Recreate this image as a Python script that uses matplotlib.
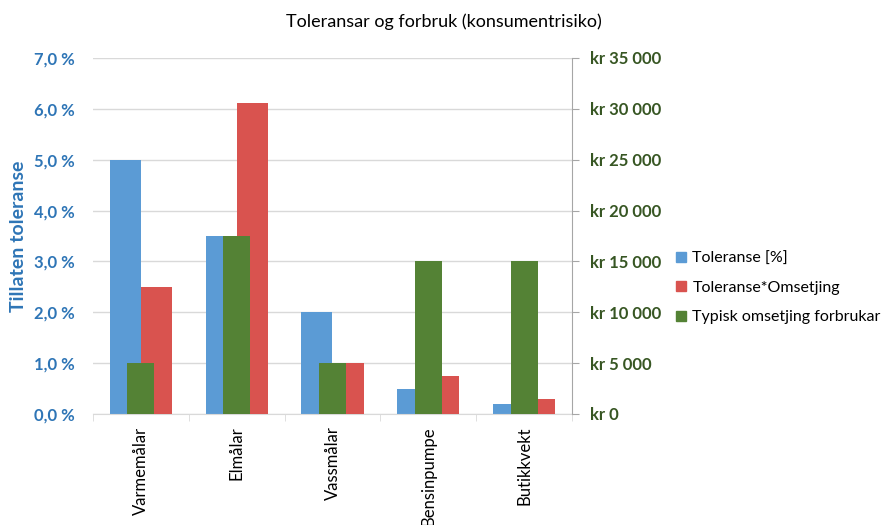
import numpy as np
import matplotlib
matplotlib.use("Agg")
import matplotlib.pyplot as plt
from matplotlib.ticker import FuncFormatter, FixedLocator
from matplotlib.patches import Patch

plt.rcParams['font.family'] = ['Lato', 'DejaVu Sans']

# data
categories = ['Varmemålar', 'Elmålar', 'Vassmålar', 'Bensinpumpe', 'Butikkvekt']
toleranse = [5.0, 3.5, 2.0, 0.5, 0.2]               # percent, left axis
tol_omsetjing = [12500, 30625, 5000, 3750, 1500]    # kr, right axis
typisk_omsetjing = [5000, 17500, 5000, 15000, 15000]  # kr, right axis

blue = '#5B9BD5'
red = '#D9534F'
green = '#548235'
blue_txt = '#2E75B6'
green_txt = '#375623'
grid_c = '#D9D9D9'

fig = plt.figure(figsize=(8.89, 5.25), dpi=100)
ax = fig.add_axes([93 / 889, 1 - 414 / 525, (572 - 93) / 889, (414 - 58) / 525])
ax2 = ax.twinx()

x = np.arange(len(categories))
w = 0.324
ax.bar(x - w / 2, toleranse, width=w, color=blue, zorder=2)
ax2.bar(x + w / 2, tol_omsetjing, width=w, color=red, zorder=2)
ax2.bar(x, typisk_omsetjing, width=0.28, color=green, zorder=3)

ax.set_xlim(-0.5, len(categories) - 0.5)
ax.set_ylim(0, 7)
ax2.set_ylim(0, 35000)

ax.yaxis.set_major_locator(FixedLocator(np.arange(0, 8, 1)))
ax2.yaxis.set_major_locator(FixedLocator(np.arange(0, 35001, 5000)))
ax.yaxis.set_major_formatter(FuncFormatter(lambda v, p: f'{v:.1f} %'.replace('.', ',')))
ax2.yaxis.set_major_formatter(FuncFormatter(lambda v, p: 'kr ' + f'{int(v):,}'.replace(',', ' ')))

ax.grid(axis='y', color=grid_c, linewidth=1, zorder=0)
ax.set_axisbelow(True)

for s in ['top', 'left', 'right']:
    ax.spines[s].set_visible(False)
for s in ['top', 'left', 'bottom']:
    ax2.spines[s].set_visible(False)
ax.spines['bottom'].set_color(grid_c)
ax2.spines['right'].set_color('#A6A6A6')

ax.tick_params(axis='y', length=0, pad=13, labelsize=12, labelcolor=blue_txt)
for t in ax.get_yticklabels():
    t.set_fontweight('bold')
ax2.tick_params(axis='y', length=5, color='#A6A6A6', pad=8, labelsize=12, labelcolor=green_txt)
for t in ax2.get_yticklabels():
    t.set_fontweight('bold')

ax.set_xticks(x)
ax.set_xticklabels(categories, rotation=90, fontsize=12)
ax.set_xticks(np.arange(-0.5, len(categories)), minor=True)
ax.tick_params(axis='x', which='major', length=0, pad=9)
ax.tick_params(axis='x', which='minor', length=5, color=grid_c)

ax.set_ylabel('Tillaten toleranse', fontsize=14, fontweight='bold', color=blue_txt, labelpad=5)

fig.suptitle('Toleransar og forbruk (konsumentrisiko)', fontsize=13, x=444 / 889, y=1 - 22 / 525, va='center')

handles = [Patch(color=blue), Patch(color=red), Patch(color=green)]
labels = ['Toleranse [%]', 'Toleranse*Omsetjing', 'Typisk omsetjing forbrukar']
fig.legend(handles, labels, loc='center left', bbox_to_anchor=(662 / 889, 1 - 288 / 525),
           frameon=False, fontsize=11.5, handlelength=0.6, handleheight=0.6,
           handletextpad=0.4, labelspacing=0.95)

fig.savefig('out.png', dpi=100)
